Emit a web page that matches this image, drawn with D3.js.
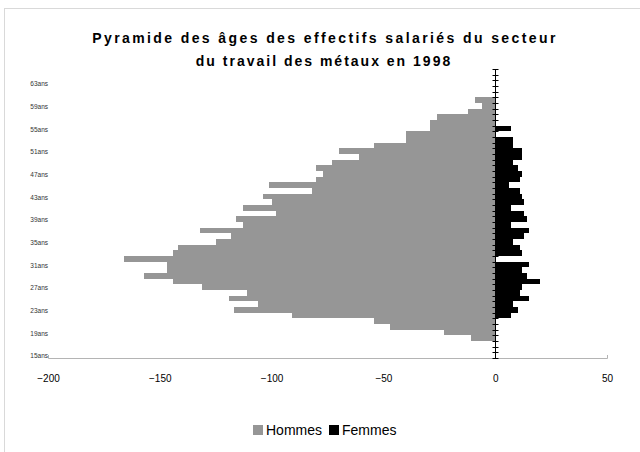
<!DOCTYPE html>
<html>
<head>
<meta charset="utf-8">
<script src="https://cdn.jsdelivr.net/npm/d3@7"></script>
<style>
  body { margin: 0; background: #fff; }
  svg { font-family: "Liberation Sans", Arial, sans-serif; }
</style>
</head>
<body>
<svg id="chart" width="640" height="452"></svg>
<script>
// tranches d'âge (15 à 65 ans)
var ages = [15,16,17,18,19,20,21,22,23,24,25,26,27,28,29,30,31,32,33,34,35,36,37,38,39,40,
            41,42,43,44,45,46,47,48,49,50,51,52,53,54,55,56,57,58,59,60,61,62,63,64,65];
// effectifs hommes (affichés à gauche)
var hommes = [0,0,0,11,23,47,54,91,117,106,119,111,131,144,157,147,147,166,144,142,125,118,132,113,116,98,
              113,100,104,82,101,80,77,80,73,61,70,54,40,40,29,29,26,12,6,9,0,0,0,0,0];
// effectifs femmes
var femmes = [0,0,0,0,0,0,0,7,10,8,15,11,12,20,14,12,15,0,12,11,8,13,15,7,14,13,
              7,13,12,11,6,11,12,10,8,12,12,8,8,0,7,0,0,0,0,0,0,0,0,0,0];
var ageLabels = ["15ans","19ans","23ans","27ans","31ans","35ans","39ans","43ans","47ans","51ans","55ans","59ans","63ans"];
var xTicks = [-200,-150,-100,-50,0,50];
var series = ["Hommes","Femmes"];

var svg = d3.select("#chart");
var gris = "#969696";

// cadre du graphique
svg.append("rect")
    .attr("x", 4.5).attr("y", 8.5)
    .attr("width", 640).attr("height", 450)
    .attr("fill", "none").attr("stroke", "#d9d9d9");

// titre
var title = svg.append("text")
    .attr("text-anchor", "middle")
    .attr("font-size", 14)
    .attr("font-weight", "bold");
title.append("tspan").attr("x", 325).attr("y", 43).attr("letter-spacing", 2.4)
    .text("Pyramide des âges des effectifs salariés du secteur");
title.append("tspan").attr("x", 324).attr("y", 66).attr("letter-spacing", 2.0)
    .text("du travail des métaux en 1998");

// échelles
var x = d3.scaleLinear().domain([-200, 50]).range([48, 607]);
var y = d3.scaleBand().domain(ages.slice().reverse()).range([69, 358]).padding(0);

var rows = ages.map(function(a, i) { return { age: a, h: hommes[i], f: femmes[i] }; });

// barres hommes
svg.append("g").selectAll("rect")
    .data(rows)
    .enter().append("rect")
    .attr("x", function(d) { return x(-d.h); })
    .attr("y", function(d) { return y(d.age); })
    .attr("width", function(d) { return x(0) - x(-d.h); })
    .attr("height", y.bandwidth())
    .attr("fill", gris)
    .attr("shape-rendering", "crispEdges");

// barres femmes
svg.append("g").selectAll("rect")
    .data(rows)
    .enter().append("rect")
    .attr("x", x(0))
    .attr("y", function(d) { return y(d.age); })
    .attr("width", function(d) { return x(d.f) - x(0); })
    .attr("height", y.bandwidth())
    .attr("fill", "#000")
    .attr("shape-rendering", "crispEdges");

// axe horizontal
var xAxis = svg.append("g")
    .attr("transform", "translate(0,358)")
    .call(d3.axisBottom(x).tickValues(xTicks).tickSizeInner(0).tickSizeOuter(-3).tickPadding(17));
xAxis.select(".domain").attr("stroke", "#b4b4b4");
xAxis.selectAll("text").attr("font-size", 10).attr("fill", "#000").attr("font-family", "Liberation Sans, Arial, sans-serif");

// axe vertical (au zéro) avec graduations croisées
var x0 = Math.round(x(0)) + 0.5;
var bornes = ages.map(function(a) { return y(a); }).concat([358]);
var ax = svg.append("g");
ax.append("line")
    .attr("x1", x0).attr("x2", x0)
    .attr("y1", 69).attr("y2", 358)
    .attr("stroke", "#000");
ax.selectAll("line.tick")
    .data(bornes)
    .enter().append("line")
    .attr("class", "tick")
    .attr("x1", x0 - 3).attr("x2", x0 + 3)
    .attr("y1", function(d) { return Math.round(d) + 0.5; })
    .attr("y2", function(d) { return Math.round(d) + 0.5; })
    .attr("stroke", "#000");

// étiquettes d'âge à gauche
svg.append("g").selectAll("text")
    .data(ageLabels)
    .enter().append("text")
    .attr("x", 48)
    .attr("y", function(d) { return y(parseInt(d)) + y.bandwidth() / 2 + 3; })
    .attr("text-anchor", "end")
    .attr("font-size", 6.5)
    .attr("fill", "#333")
    .text(function(d) { return d; });

// légende
var leg = svg.append("g");
var lx = [253, 329];
series.forEach(function(s, i) {
    leg.append("rect")
        .attr("x", lx[i]).attr("y", 425)
        .attr("width", 10).attr("height", 10)
        .attr("fill", i === 0 ? gris : "#000");
    leg.append("text")
        .attr("x", lx[i] + 13).attr("y", 435)
        .attr("font-size", 14)
        .text(s);
});
</script>
</body>
</html>
